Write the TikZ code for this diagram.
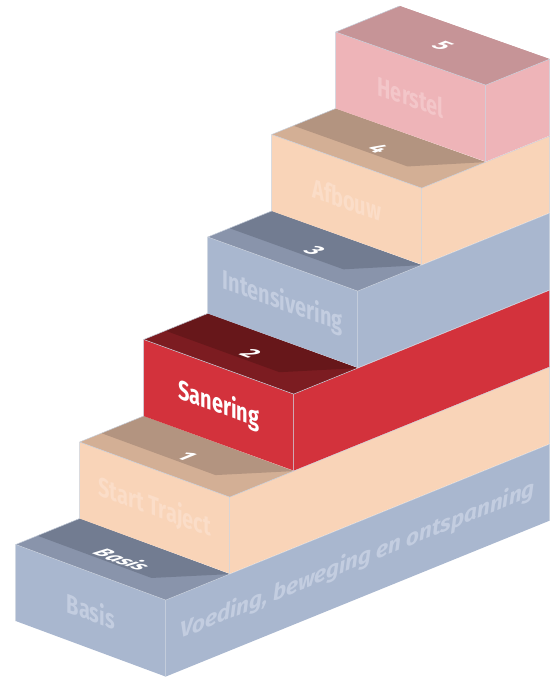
\documentclass[tikz,border=0pt]{standalone}
\usepackage{fontspec}
\setmainfont{Fira Sans}
\definecolor{edgec}{HTML}{C8D0DC}
\definecolor{blueFace}{HTML}{A9B7CF}
\definecolor{blueTopL}{HTML}{8994AB}
\definecolor{blueTopD}{HTML}{727C91}
\definecolor{blueText}{HTML}{C3CDE0}
\definecolor{peachFace}{HTML}{F9D4B8}
\definecolor{peachTopL}{HTML}{D3AF95}
\definecolor{peachTopD}{HTML}{B39480}
\definecolor{peachText}{HTML}{FBDDC8}
\definecolor{redFace}{HTML}{D3323C}
\definecolor{redTopL}{HTML}{7C1C21}
\definecolor{redTopD}{HTML}{67171A}
\definecolor{pinkFace}{HTML}{EEB4B8}
\definecolor{pinkTop}{HTML}{C69497}
\definecolor{pinkText}{HTML}{F3C6C9}
\tikzset{
  face/.style={draw=edgec, line width=0.5pt, line join=round},
  frontlab/.style={font=\bfseries\fontsize{27}{27}\selectfont, xscale=0.74, inner sep=0pt},
  toplab/.style={font=\bfseries\fontsize{23}{23}\selectfont, text=white, inner sep=0pt,
    cm={0.939,-0.344,0.926,0.376,(0,0)}},
  sidelab/.style={font=\bfseries\itshape\fontsize{22.5}{22.5}\selectfont, text=blueText, inner sep=0pt}
}
% #1 k, #2 n (depth units), #3 face, #4 top light, #5 top dark, #6 front label, #7 label colour, #8 top label
\newcommand\drawstep[8]{%
  \pgfmathsetmacro\fx{15.7+64*#1}%
  \pgfmathsetmacro\fy{544.5-102.5*#1}%
  \pgfmathsetmacro\wy{55.6-0.5*#1}%
  \pgfmathsetmacro\sl{-\wy/150}%
  % front face
  \fill[#3] (\fx,\fy) -- ({\fx+150},{\fy+\wy}) -- ({\fx+150},{\fy+\wy+76.5}) -- (\fx,{\fy+76.5}) -- cycle;
  % right face
  \fill[#3] ({\fx+150},{\fy+\wy}) -- ({\fx+150+64*#2},{\fy+\wy-26*#2}) -- ({\fx+150+64*#2},{\fy+\wy-26*#2+76.5}) -- ({\fx+150},{\fy+\wy+76.5}) -- cycle;
  % top face
  \fill[#4] (\fx,\fy) -- ({\fx+150},{\fy+\wy}) -- ({\fx+214},{\fy+\wy-26}) -- ({\fx+64},{\fy-26}) -- cycle;
  \fill[#5] ({\fx+21.8},{\fy-8.8}) -- ({\fx+135.8},{\fy-8.8+0.76*\wy}) -- ({\fx+214},{\fy+\wy-26}) -- ({\fx+64},{\fy-26}) -- cycle;
  % edges
  \draw[face] (\fx,{\fy+76.5}) -- (\fx,\fy) -- ({\fx+150},{\fy+\wy}) -- ({\fx+150},{\fy+\wy+76.5});
  \draw[face] (\fx,\fy) -- ({\fx+64},{\fy-26});
  \draw[face] ({\fx+150},{\fy+\wy}) -- ({\fx+150+64*#2},{\fy+\wy-26*#2}) -- ({\fx+150+64*#2},{\fy+\wy-26*#2+76.5});
  % labels
  \node[yslant=\sl, frontlab, text=#7] (lab#1) at ({\fx+75},{\fy+\wy/2+38.25}) {#6};
  \node[toplab] (num#1) at ({\fx+107},{\fy+\wy/2-13}) {#8};
}
\begin{document}
\begin{tikzpicture}[x=1pt,y=-1pt]
\useasboundingbox (0,0) rectangle (558,678);
\drawstep{0}{6}{blueFace}{blueTopL}{blueTopD}{Basis}{blueText}{\itshape\fontsize{21}{21}\selectfont Basis}
\node[yslant=0.406, sidelab] (side) at (357.7,560.4) {Voeding, beweging en ontspanning};
\drawstep{1}{5}{peachFace}{peachTopL}{peachTopD}{Start Traject}{peachText}{1}
\drawstep{2}{4}{redFace}{redTopL}{redTopD}{Sanering}{white}{2}
\drawstep{3}{3}{blueFace}{blueTopL}{blueTopD}{Intensivering}{blueText}{3}
\drawstep{4}{2}{peachFace}{peachTopL}{peachTopD}{Afbouw}{peachText}{4}
\drawstep{5}{1}{pinkFace}{pinkTop}{pinkTop}{Herstel}{pinkText}{5}
\end{tikzpicture}
\end{document}
